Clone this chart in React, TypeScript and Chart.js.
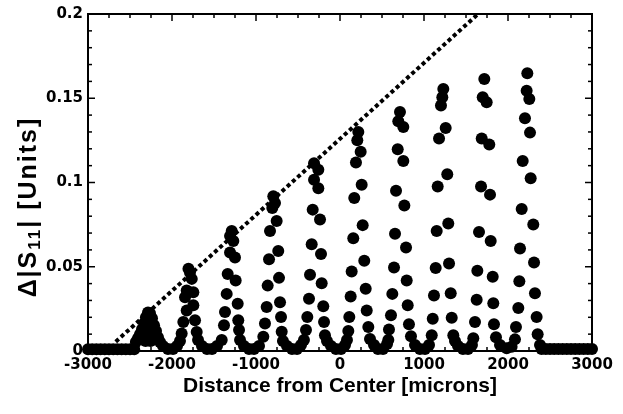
import React, { useEffect, useRef } from "react";
import { Chart, registerables } from "chart.js";

Chart.register(...registerables);

// ---- axis ranges & labels ----
const xMin = -3000;
const xMax = 3000;
const xStep = 1000;
const yMin = 0;
const yMax = 0.2;
const yStep = 0.05;
const xTitle = "Distance from Center [microns]";
const yTitleMain = "Δ|S";
const yTitleSub = "11";
const yTitleEnd = "| [Units]";

// ---- measured points [x (microns), Δ|S11|] ----
const baselineLeft: [number, number][] = [
  [-3000, 0.001], [-2950, 0.001], [-2900, 0.001], [-2850, 0.001], [-2800, 0.001], [-2750, 0.001],
  [-2700, 0.001], [-2650, 0.001], [-2600, 0.001], [-2550, 0.001], [-2500, 0.001], [-2450, 0.001],
];
const peak1: [number, number][] = [
  [-2430, 0.0053], [-2405, 0.0076], [-2381, 0.01], [-2357, 0.0129], [-2333, 0.0165], [-2310, 0.02],
  [-2286, 0.0229], [-2262, 0.0224], [-2238, 0.0194], [-2214, 0.0153], [-2190, 0.0118], [-2167, 0.0082],
  [-2143, 0.0053], [-2335, 0.01], [-2290, 0.013], [-2245, 0.01], [-2315, 0.006], [-2255, 0.006],
];
const valley1: [number, number][] = [[-2107, 0.003], [-2048, 0.0012], [-1988, 0.0012], [-1940, 0.003]];
const peak2: [number, number][] = [
  [-1804, 0.0488], [-1786, 0.0466], [-1765, 0.0428], [-1825, 0.0359], [-1746, 0.0349], [-1845, 0.0319],
  [-1746, 0.0271], [-1825, 0.0241], [-1726, 0.0182], [-1865, 0.0172], [-1706, 0.0113], [-1885, 0.0104],
  [-1905, 0.0059], [-1690, 0.0065],
];
const valley2: [number, number][] = [[-1643, 0.003], [-1583, 0.0012], [-1524, 0.0012], [-1464, 0.003]];
const peak3: [number, number][] = [
  [-1289, 0.0712], [-1309, 0.0682], [-1270, 0.0653], [-1309, 0.0584], [-1250, 0.0555], [-1337, 0.0457],
  [-1242, 0.0418], [-1349, 0.0339], [-1218, 0.028], [-1369, 0.0231], [-1211, 0.0182], [-1381, 0.0153],
  [-1202, 0.0124], [-1408, 0.0065], [-1190, 0.0065],
];
const valley3: [number, number][] = [[-1143, 0.003], [-1083, 0.0012], [-1024, 0.0012], [-964, 0.003]];
const peak4: [number, number][] = [
  [-794, 0.0918], [-774, 0.0878], [-806, 0.0849], [-754, 0.0771], [-833, 0.0712], [-735, 0.0594],
  [-845, 0.0545], [-726, 0.0434], [-861, 0.0388], [-714, 0.029], [-873, 0.0261], [-702, 0.0202],
  [-893, 0.0163], [-694, 0.0114], [-913, 0.0084], [-679, 0.0059],
];
const valley4: [number, number][] = [[-631, 0.003], [-571, 0.0012], [-512, 0.0012], [-464, 0.0035]];
const peak5: [number, number][] = [
  [-309, 0.1114], [-258, 0.1075], [-309, 0.1016], [-258, 0.0966], [-325, 0.0839], [-238, 0.0781],
  [-337, 0.0634], [-226, 0.0575], [-357, 0.0453], [-218, 0.0402], [-369, 0.031], [-199, 0.0265],
  [-389, 0.0202], [-190, 0.0172], [-405, 0.0124], [-179, 0.0094], [-429, 0.0065], [-155, 0.0059],
];
const valley5: [number, number][] = [[-107, 0.003], [-48, 0.0012], [12, 0.0012], [60, 0.0035]];
const peak6: [number, number][] = [
  [218, 0.13], [206, 0.1251], [246, 0.1182], [190, 0.1119], [258, 0.0986], [170, 0.0908],
  [270, 0.0747], [158, 0.0669], [289, 0.0535], [139, 0.0472], [306, 0.0369], [127, 0.0324],
  [318, 0.0241], [111, 0.0202], [337, 0.0143], [99, 0.0119], [83, 0.0065], [357, 0.0071],
];
const valley6: [number, number][] = [[405, 0.0035], [452, 0.0012], [512, 0.0012], [560, 0.0041]];
const peak7: [number, number][] = [
  [714, 0.1418], [694, 0.1363], [754, 0.1329], [687, 0.1198], [754, 0.1128], [667, 0.0951],
  [766, 0.0863], [655, 0.0696], [786, 0.0614], [643, 0.0496], [794, 0.0418], [623, 0.0339],
  [806, 0.0271], [607, 0.0212], [821, 0.0159], [583, 0.0128], [845, 0.0088], [575, 0.0065],
];
const valley7: [number, number][] = [[893, 0.0035], [952, 0.0012], [1012, 0.0012], [1060, 0.0035]];
const peak8: [number, number][] = [
  [1230, 0.1555], [1218, 0.1506], [1202, 0.1457], [1258, 0.1324], [1179, 0.1261], [1277, 0.1049],
  [1163, 0.0976], [1289, 0.0757], [1151, 0.0712], [1298, 0.0519], [1139, 0.0492], [1318, 0.0343],
  [1119, 0.0329], [1330, 0.0198], [1104, 0.0192], [1349, 0.0094], [1092, 0.0094], [1369, 0.0059],
];
const valley8: [number, number][] = [[1405, 0.003], [1464, 0.0012], [1524, 0.0012], [1571, 0.0035]];
const peak9: [number, number][] = [
  [1718, 0.1614], [1699, 0.1506], [1746, 0.1476], [1687, 0.1261], [1777, 0.1225], [1679, 0.0976],
  [1786, 0.0928], [1655, 0.0706], [1794, 0.0653], [1635, 0.0476], [1818, 0.0441], [1627, 0.0304],
  [1825, 0.0284], [1607, 0.0172], [1833, 0.0159], [1587, 0.0075], [1857, 0.0081],
];
const valley9: [number, number][] = [[1905, 0.0035], [1984, 0.0016], [2043, 0.0025]];
const peak10: [number, number][] = [
  [2230, 0.1649], [2222, 0.1545], [2254, 0.1496], [2202, 0.1382], [2262, 0.1296], [2175, 0.1128],
  [2270, 0.1025], [2163, 0.0843], [2301, 0.0751], [2143, 0.0608], [2310, 0.0525], [2135, 0.0414],
  [2321, 0.0343], [2123, 0.0255], [2341, 0.0202], [2095, 0.0143], [2353, 0.01], [2083, 0.0069],
  [2381, 0.0035],
];
const baselineRight: [number, number][] = [
  [2400, 0.0012], [2450, 0.0012], [2500, 0.0012], [2550, 0.0012], [2600, 0.0012], [2650, 0.0012],
  [2700, 0.0012], [2750, 0.0012], [2800, 0.0012], [2850, 0.0012], [2900, 0.0012], [2950, 0.0012],
  [3000, 0.0012],
];

// ---- dotted envelope line ----
const envelopeX = [-2670, 1643];
const envelopeY = [0.0055, 0.2];

const allGroups = [
  baselineLeft, peak1, valley1, peak2, valley2, peak3, valley3, peak4, valley4, peak5, valley5,
  peak6, valley6, peak7, valley7, peak8, valley8, peak9, valley9, peak10, baselineRight,
];

const framePlugin = {
  id: "frameTicks",
  beforeDatasetsDraw(chart: any) {
    const { ctx, chartArea: a, scales } = chart;
    const xs = scales.x;
    const ys = scales.y;
    ctx.save();
    ctx.strokeStyle = "#000";
    ctx.lineWidth = 2;
    ctx.strokeRect(a.left, a.top, a.right - a.left, a.bottom - a.top);
    ctx.lineWidth = 1.5;
    const seg = (x1: number, y1: number, x2: number, y2: number) => {
      ctx.beginPath();
      ctx.moveTo(x1, y1);
      ctx.lineTo(x2, y2);
      ctx.stroke();
    };
    for (let i = 0; i <= 20; i++) {
      const py = ys.getPixelForValue(yMin + i * 0.01);
      const len = i % 5 === 0 ? 7 : 4;
      seg(a.left, py, a.left + len, py);
      seg(a.right, py, a.right - len, py);
    }
    for (let i = 0; i <= 24; i++) {
      const px = xs.getPixelForValue(xMin + i * 250);
      const len = i % 4 === 0 ? 7 : 4;
      seg(px, a.bottom, px, a.bottom - len);
      seg(px, a.top, px, a.top + len);
    }
    ctx.restore();
  },
  afterDraw(chart: any) {
    const { ctx } = chart;
    ctx.save();
    ctx.translate(29, 207);
    ctx.rotate(-Math.PI / 2);
    ctx.fillStyle = "#000";
    ctx.textBaseline = "middle";
    ctx.textAlign = "left";
    try { (ctx as any).letterSpacing = "2px"; } catch (e) {}
    const mainFont = 'bold 25px "Liberation Sans", Arial, sans-serif';
    const subFont = 'bold 17px "Liberation Sans", Arial, sans-serif';
    ctx.font = mainFont;
    const w1 = ctx.measureText(yTitleMain).width;
    const w3 = ctx.measureText(yTitleEnd).width;
    ctx.font = subFont;
    const w2 = ctx.measureText(yTitleSub).width;
    const total = w1 + w2 + w3;
    const x0 = -total / 2;
    ctx.font = mainFont;
    ctx.fillText(yTitleMain, x0, 0);
    ctx.font = subFont;
    ctx.fillText(yTitleSub, x0 + w1, 6);
    ctx.font = mainFont;
    ctx.fillText(yTitleEnd, x0 + w1 + w2, 0);
    ctx.restore();
  },
};

export default function App() {
  const ref = useRef<HTMLCanvasElement>(null);
  useEffect(() => {
    if (!ref.current) return;
    const points = allGroups.flat().map(([x, y]) => ({ x, y }));
    const envelope = envelopeX.map((x, i) => ({ x, y: envelopeY[i] }));
    const tickFont = { family: '"DejaVu Sans", sans-serif', weight: "bold" as const, size: 15 };
    const chart = new Chart(ref.current, {
      type: "scatter",
      data: {
        datasets: [
          {
            data: envelope,
            showLine: true,
            borderColor: "#000",
            borderWidth: 4,
            borderDash: [4, 3],
            borderCapStyle: "butt",
            pointRadius: 0,
            clip: false,
          } as any,
          {
            data: points,
            showLine: false,
            pointRadius: 6,
            pointBorderWidth: 0,
            backgroundColor: "#000",
            borderColor: "#000",
            clip: false,
          } as any,
        ],
      },
      options: {
        responsive: false,
        animation: false,
        devicePixelRatio: 1,
        events: [],
        layout: { padding: { top: 11, right: 31, left: 0, bottom: 0 } },
        plugins: { legend: { display: false }, tooltip: { enabled: false } },
        scales: {
          x: {
            type: "linear",
            min: xMin,
            max: xMax,
            ticks: {
              stepSize: xStep,
              color: "#000",
              font: tickFont,
              padding: 5,
              maxRotation: 0,
              callback: (v: any) => String(v),
            },
            grid: { display: false, drawTicks: false },
            border: { display: false },
            title: {
              display: true,
              text: xTitle,
              color: "#000",
              font: { family: '"Liberation Sans", Arial, sans-serif', weight: "bold", size: 21 },
              padding: { top: 0, bottom: 15 },
            },
            afterFit: (s: any) => {
              s.height = 63;
            },
          },
          y: {
            type: "linear",
            min: yMin,
            max: yMax,
            ticks: {
              stepSize: yStep,
              color: "#000",
              font: tickFont,
              padding: 5,
              callback: (v: any) => String(Math.round(v * 100) / 100),
            },
            grid: { display: false, drawTicks: false },
            border: { display: false },
            afterFit: (s: any) => {
              s.width = 88;
            },
          },
        },
      },
      plugins: [framePlugin],
    });
    return () => chart.destroy();
  }, []);
  return (
    <div style={{ position: "fixed", left: 0, top: 0, width: 623, height: 414, background: "#fff" }}>
      <canvas ref={ref} width={623} height={414} style={{ display: "block", width: 623, height: 414 }} />
    </div>
  );
}
